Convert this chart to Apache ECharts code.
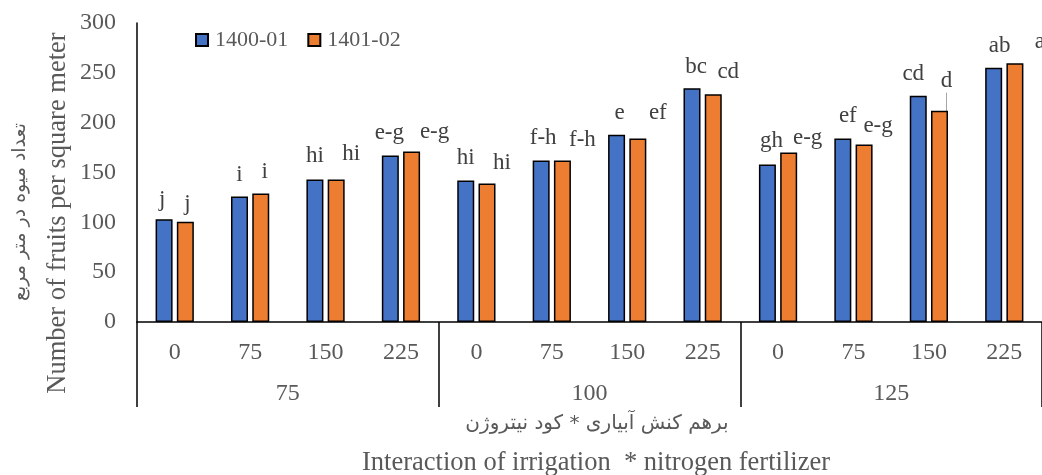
<!DOCTYPE html>
<html>
<head>
<meta charset="utf-8">
<script src="https://cdn.jsdelivr.net/npm/echarts@6/dist/echarts.min.js"></script>
<style>
  html, body { margin: 0; padding: 0; background: #fff; }
  #chart { width: 1042px; height: 475px; }
</style>
</head>
<body>
<div id="chart"></div>
<script>
// nitrogen levels inside each irrigation group
const nitrogen = ['0', '75', '150', '225', '0', '75', '150', '225', '0', '75', '150', '225'];
const irrigation = ['75', '100', '125'];

const seriesNames = ['1400-01', '1401-02'];
const values1400 = [103, 126, 143, 167, 142, 162, 188, 234.5, 158, 184, 227, 255];
const values1401 = [100.5, 129, 143, 171, 139, 162, 184, 228.5, 170, 178, 212, 259.5];

const letters1400 = ['j', 'i', 'hi', 'e-g', 'hi', 'f-h', 'e', 'bc', 'gh', 'ef', 'cd', 'ab'];
const letters1401 = ['j', 'i', 'hi', 'e-g', 'hi', 'f-h', 'ef', 'cd', 'e-g', 'e-g', 'd', 'a'];

// small nudges of the letter labels [dx, dy] (layout only)
const shift1400 = [[-2, 2], [0, 0], [0, -2], [-1, -1], [0, -1], [2, -1], [3, 0], [4, 0], [4, -2], [5, -1], [-5, 0], [6, 0]];
const shift1401 = [[2, 4], [4, 0], [15, -4], [23, 2], [15, 1], [20, 1], [20, -4], [15, -1], [19, 7], [14, 3], [7, -8], [25, 0]];

const myChart = echarts.init(document.getElementById('chart'));

const labelFont = {
    fontFamily: 'Liberation Serif',
    fontSize: 23,
    color: '#404040'
};

function makeData(vals, letters) {
    return vals.map((v, i) => {
        const item = { value: v, label: { formatter: letters[i] } };
        if (letters === letters1401 && letters[i] === 'd') {
            item.labelLine = { show: true, lineStyle: { color: '#a6a6a6', width: 1 } };
        }
        return item;
    });
}

const option = {
    animation: false,
    backgroundColor: '#fff',
    grid: {
        left: 137,
        top: 23,
        width: 912,
        height: 299
    },
    legend: {
        left: 190,
        top: 24,
        icon: 'rect',
        itemWidth: 12,
        itemHeight: 12,
        itemGap: 19,
        textStyle: {
            fontFamily: 'Liberation Serif',
            fontSize: 22,
            color: '#595959',
            padding: [0, 0, 0, 2]
        },
        data: seriesNames
    },
    xAxis: [
        {
            type: 'category',
            data: nitrogen,
            axisLine: { lineStyle: { color: '#000', width: 1.5 } },
            axisTick: { show: false },
            axisLabel: {
                interval: 0,
                margin: 19,
                fontFamily: 'Liberation Serif',
                fontSize: 24,
                color: '#595959'
            }
        },
        {
            type: 'category',
            data: irrigation,
            position: 'bottom',
            axisLine: { show: false },
            axisTick: {
                show: true,
                interval: 0,
                length: 85,
                lineStyle: { color: '#000', width: 1.5 }
            },
            axisLabel: {
                interval: 0,
                margin: 60,
                fontFamily: 'Liberation Serif',
                fontSize: 24,
                color: '#595959'
            }
        }
    ],
    yAxis: {
        type: 'value',
        min: 0,
        max: 300,
        interval: 50,
        axisLine: { show: true, lineStyle: { color: '#000', width: 1.5 } },
        axisTick: { show: false },
        splitLine: { show: false },
        axisLabel: {
            margin: 21,
            fontFamily: 'Liberation Serif',
            fontSize: 24,
            color: '#595959'
        }
    },
    series: [
        {
            name: seriesNames[0],
            type: 'bar',
            xAxisIndex: 0,
            barWidth: 17,
            barGap: '25%',
            itemStyle: { color: '#4472C4', borderColor: '#000', borderWidth: 1.5 },
            label: Object.assign({ show: true, position: 'top', distance: 10 }, labelFont),
            labelLayout: function (p) {
                const s = shift1400[p.dataIndex];
                return { dx: s[0], dy: s[1] };
            },
            data: makeData(values1400, letters1400)
        },
        {
            name: seriesNames[1],
            type: 'bar',
            xAxisIndex: 0,
            barWidth: 17,
            barGap: '25%',
            itemStyle: { color: '#ED7D31', borderColor: '#000', borderWidth: 1.5 },
            label: Object.assign({ show: true, position: 'top', distance: 10 }, labelFont),
            labelLayout: function (p) {
                const s = shift1401[p.dataIndex];
                return { dx: s[0], dy: s[1] };
            },
            data: makeData(values1401, letters1401)
        }
    ],
    graphic: [
        {
            type: 'text',
            x: 58,
            y: 213,
            rotation: Math.PI / 2,
            style: {
                text: 'Number of fruits per square meter',
                font: '26.5px "Liberation Serif"',
                fill: '#595959',
                align: 'center',
                verticalAlign: 'middle'
            }
        },
        {
            type: 'text',
            x: 20,
            y: 212,
            rotation: Math.PI / 2,
            style: {
                text: 'تعداد میوه در متر مربع',
                font: '19px "DejaVu Sans"',
                fill: '#595959',
                align: 'center',
                verticalAlign: 'middle'
            }
        },
        {
            type: 'text',
            x: 597,
            y: 424,
            style: {
                text: 'برهم کنش آبیاری * کود نیتروژن',
                font: '20px "DejaVu Sans"',
                fill: '#595959',
                align: 'center',
                verticalAlign: 'middle'
            }
        },
        {
            type: 'text',
            x: 596,
            y: 463,
            style: {
                text: 'Interaction of irrigation  * nitrogen fertilizer',
                font: '26.5px "Liberation Serif"',
                fill: '#595959',
                align: 'center',
                verticalAlign: 'middle'
            }
        }
    ]
};

myChart.setOption(option);
</script>
</body>
</html>
